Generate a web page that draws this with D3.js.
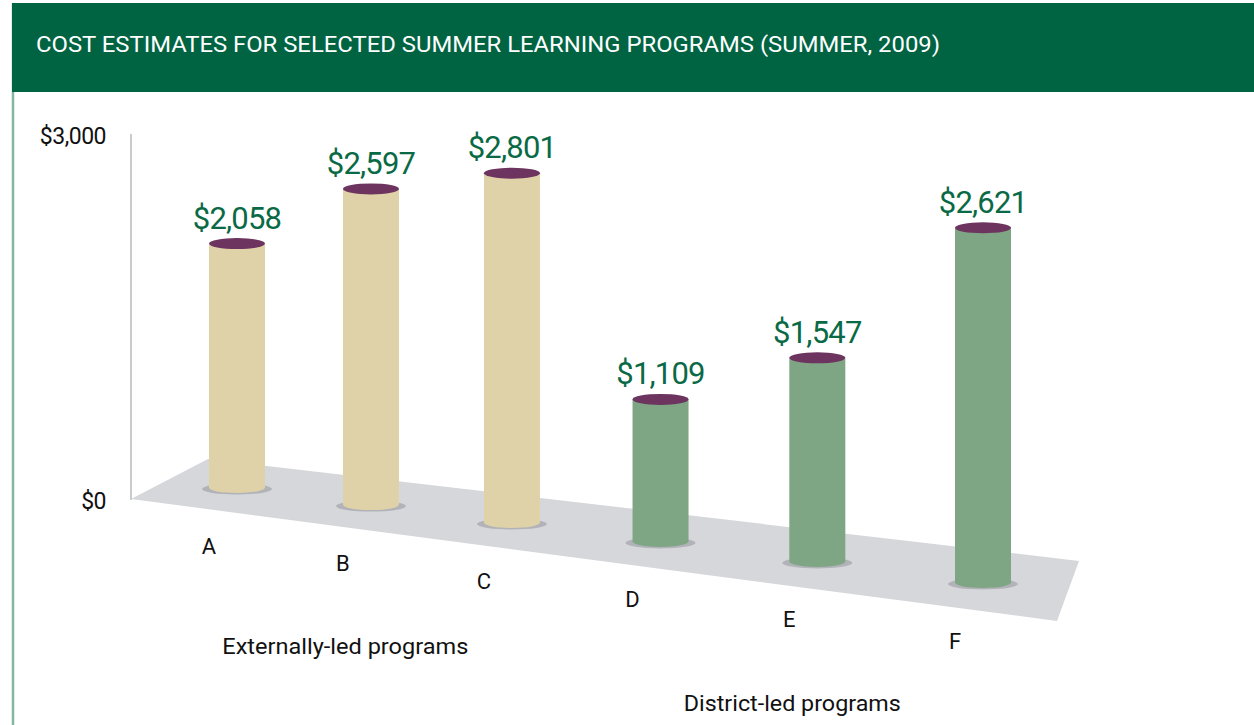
<!DOCTYPE html>
<html>
<head>
  <meta charset="utf-8">
  <title>Cost estimates for selected summer learning programs</title>
  <script src="https://d3js.org/d3.v7.min.js"></script>
  <style>
    body { margin: 0; background: #fff; }
    svg { display: block; font-family: Roboto, "Noto Sans", sans-serif; }
  </style>
</head>
<body>
<script>
// data
var title = "COST ESTIMATES FOR SELECTED SUMMER LEARNING PROGRAMS (SUMMER, 2009)";
var categories = ["A", "B", "C", "D", "E", "F"];
var costs = [2058, 2597, 2801, 1109, 1547, 2621];
var groupOf = ["Externally-led programs", "Externally-led programs", "Externally-led programs",
               "District-led programs", "District-led programs", "District-led programs"];
var groupNames = ["Externally-led programs", "District-led programs"];
var yTicks = [0, 3000];

var width = 1254, height = 725;
var fmt = d3.format("$,");

var svg = d3.select("body").append("svg")
  .attr("width", width)
  .attr("height", height);

// header band + left rule
svg.append("line")
  .attr("x1", 13).attr("x2", 13).attr("y1", 3).attr("y2", height)
  .attr("stroke", "#86b6a0").attr("stroke-width", 2.5);
svg.append("rect")
  .attr("x", 12).attr("y", 3).attr("width", width - 12).attr("height", 89)
  .attr("fill", "#006443");
svg.append("text")
  .attr("x", 36).attr("y", 52)
  .attr("fill", "#fff")
  .style("font-size", "22px")
  .attr("textLength", 904).attr("lengthAdjust", "spacingAndGlyphs")
  .text(title);

// scales
// position along the floor (0 = back-left, 1 = front-right)
var s = d3.scalePoint().domain(categories).range([0, 1]);
// perspective depth: farther bars are smaller
var depth = d3.scaleLinear().domain([0, 1]).range([1.142, 1]);
var xFloor = d3.scaleLinear().domain([0, 1]).range([237, 983]);
function xPos(c) { var t = s(c); return xFloor(t / depth(t)); }
var baseY = d3.scaleLinear().domain([237, 983]).range([487.5, 582.5]);
var h = d3.scaleLinear().domain([0, 3000]).range([0, 406]);
var y = d3.scaleLinear().domain([0, 3000]).range([500, 135]);

// y axis
svg.append("line")
  .attr("x1", 131).attr("x2", 131).attr("y1", y(3000) - 1).attr("y2", y(0))
  .attr("stroke", "#a8a8a8").attr("stroke-width", 1.2);
svg.append("g").selectAll("text")
  .data(yTicks)
  .join("text")
  .attr("x", 106)
  .attr("y", function (d) { return y(d) + 9; })
  .attr("text-anchor", "end")
  .style("font-size", "23px")
  .style("letter-spacing", "-0.5px")
  .attr("fill", "#111")
  .text(function (d) { return fmt(d); });

// floor
var floor = [[131, 499], [208, 459], [1079, 561], [1057, 621]];
svg.append("path")
  .attr("d", d3.line()(floor) + "Z")
  .attr("fill", "#d6d7db");

var rx = 28, ry = 5.5;
var bars = categories.map(function (c, i) {
  var cx = xPos(c), cy = baseY(cx);
  return { cat: c, v: costs[i], cx: cx, cy: cy, hh: h(costs[i]) / depth(s(c)), district: i >= 3 };
});

var g = svg.append("g");

// shadows
g.selectAll("ellipse.shadow")
  .data(bars)
  .join("ellipse")
  .attr("class", "shadow")
  .attr("cx", function (d) { return d.cx; })
  .attr("cy", function (d) { return d.cy + 1.5; })
  .attr("rx", 35).attr("ry", 5.5)
  .attr("fill", "#b2b3b8");

// cylinder bodies
g.selectAll("path.body")
  .data(bars)
  .join("path")
  .attr("class", "body")
  .attr("d", function (d) {
    var l = d.cx - rx, r = d.cx + rx, top = d.cy - d.hh;
    return "M" + l + "," + top + "L" + l + "," + d.cy +
      "A" + rx + "," + ry + " 0 0 0 " + r + "," + d.cy +
      "L" + r + "," + top + "Z";
  })
  .attr("fill", function (d) { return d.district ? "#7ea584" : "#e0d2a8"; });

// tops
g.selectAll("ellipse.top")
  .data(bars)
  .join("ellipse")
  .attr("class", "top")
  .attr("cx", function (d) { return d.cx; })
  .attr("cy", function (d) { return d.cy - d.hh; })
  .attr("rx", rx).attr("ry", ry)
  .attr("fill", "#6c345e");

// value labels
g.selectAll("text.value")
  .data(bars)
  .join("text")
  .attr("class", "value")
  .attr("x", function (d) { return d.cx; })
  .attr("y", function (d) { return d.cy - d.hh - 15; })
  .attr("text-anchor", "middle")
  .style("font-size", "31px")
  .style("letter-spacing", "-0.8px")
  .attr("fill", "#0a6a45")
  .text(function (d) { return fmt(d.v); });

// category labels
g.selectAll("text.cat")
  .data(bars)
  .join("text")
  .attr("class", "cat")
  .attr("x", function (d) { return d.cx - rx; })
  .attr("y", function (d) { return d.cy + 66; })
  .attr("text-anchor", "middle")
  .style("font-size", "22px")
  .attr("fill", "#111")
  .text(function (d) { return d.cat; });

// group labels, centred under their categories
var groupWidths = { "Externally-led programs": 246, "District-led programs": 217 };
svg.append("g").selectAll("text")
  .data(groupNames)
  .join("text")
  .each(function (name) {
    var members = bars.filter(function (b, i) { return groupOf[i] === name; });
    var mx = d3.mean(members, function (b) { return b.cx - rx; });
    var my = d3.mean(members, function (b) { return b.cy + 66; });
    d3.select(this)
      .attr("x", mx - groupWidths[name] / 2)
      .attr("y", my + 83)
      .attr("textLength", groupWidths[name])
      .attr("lengthAdjust", "spacingAndGlyphs");
  })
  .style("font-size", "22px")
  .attr("fill", "#111")
  .text(function (d) { return d; });
</script>
</body>
</html>
